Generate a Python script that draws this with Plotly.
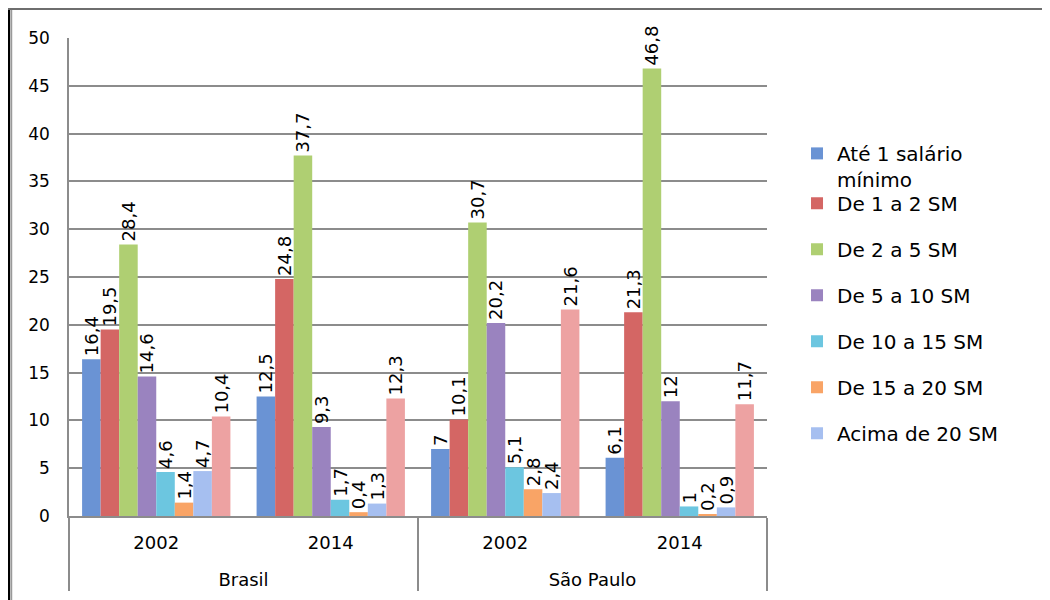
import plotly.graph_objects as go

# multicategory x axis: region / year
regioes = ["Brasil", "Brasil", "São Paulo", "São Paulo"]
anos = ["2002", "2014", "2002", "2014"]

series = [
    "Até 1 salário<br>mínimo",
    "De 1 a 2 SM",
    "De 2 a 5 SM",
    "De 5 a 10 SM",
    "De 10 a 15 SM",
    "De 15 a 20 SM",
    "Acima de 20 SM",
    "Sem declaração",
]

ate_1 = [16.4, 12.5, 7, 6.1]
de_1_2 = [19.5, 24.8, 10.1, 21.3]
de_2_5 = [28.4, 37.7, 30.7, 46.8]
de_5_10 = [14.6, 9.3, 20.2, 12]
de_10_15 = [4.6, 1.7, 5.1, 1]
de_15_20 = [1.4, 0.4, 2.8, 0.2]
acima_20 = [4.7, 1.3, 2.4, 0.9]
outros = [10.4, 12.3, 21.6, 11.7]

valores = [ate_1, de_1_2, de_2_5, de_5_10, de_10_15, de_15_20, acima_20, outros]
cores = ["#6a93d4", "#d46664", "#afcf72", "#9a83bf", "#6cc6e0", "#f9a466", "#a6bff0", "#eda2a2"]

FONT = "DejaVu Sans, Verdana, sans-serif"

# leading line break pushes the region label down, like the Excel two-level axis
x_regioes = ["<br>" + r for r in regioes]

fig = go.Figure()
for i, (nome, vals, cor) in enumerate(zip(series, valores, cores)):
    fig.add_trace(go.Bar(
        x=[x_regioes, anos],
        y=vals,
        name=nome,
        marker=dict(color=cor, line=dict(width=0)),
        text=[("%g" % v).replace(".", ",") for v in vals],
        textposition="outside",
        textangle=-90,
        constraintext="none",
        cliponaxis=False,
        textfont=dict(family=FONT, size=18, color="#000000"),
        # first entry has two lines, so it gets its own legend box
        legend="legend" if i == 0 else "legend2",
        legendgroup="g%d" % i,
        showlegend=(i < 7),
    ))

leg_common = dict(
    xanchor="left", yanchor="top",
    font=dict(family=FONT, size=20, color="#000000"),
    itemwidth=30,
    valign="top",
    bgcolor="rgba(0,0,0,0)",
)

fig.update_layout(
    width=1042,
    height=592,
    margin=dict(l=61, r=283, t=30, b=84),
    paper_bgcolor="white",
    plot_bgcolor="white",
    font=dict(family=FONT, size=17, color="#000000"),
    barmode="group",
    bargap=0.15,
    bargroupgap=0,
    showlegend=True,
    legend=dict(x=1.043, y=0.7994, **leg_common),
    legend2=dict(x=1.043, y=0.695, tracegroupgap=17, **leg_common),
    shapes=[
        dict(type="line", xref="paper", yref="paper", x0=-0.086, x1=-0.086, y0=1.0628, y1=-0.2,
             line=dict(color="#000000", width=2.5)),
        dict(type="line", xref="paper", yref="paper", x0=-0.0824, x1=-0.0824, y0=1.0628, y1=-0.2,
             line=dict(color="#9a9a9a", width=1.5)),
        dict(type="line", xref="paper", yref="paper", x0=-0.09, x1=1.42, y0=1.0607, y1=1.0607,
             line=dict(color="#6e6e6e", width=2)),
    ],
)

fig.update_yaxes(
    range=[0, 50],
    dtick=5,
    showgrid=True,
    gridcolor="#8c8c8c",
    gridwidth=1.5,
    showline=True,
    linecolor="#8c8c8c",
    linewidth=1.5,
    ticks="",
    ticklabelstandoff=14,
    tickfont=dict(family=FONT, size=17),
    zeroline=False,
)

fig.update_xaxes(
    showline=True,
    linecolor="#8c8c8c",
    linewidth=1.5,
    showdividers=True,
    dividercolor="#8c8c8c",
    dividerwidth=1.5,
    ticks="",
    ticklabelstandoff=10,
    tickfont=dict(family=FONT, size=18),
)

fig.write_html("out.html")
